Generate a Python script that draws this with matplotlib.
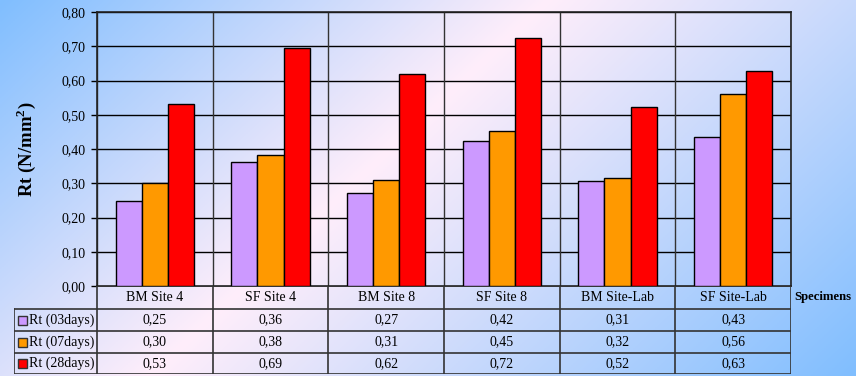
import numpy as np
import matplotlib
matplotlib.use("Agg")
import matplotlib.pyplot as plt
from matplotlib.patches import Rectangle

categories = ["BM Site 4", "SF Site 4", "BM Site 8", "SF Site 8", "BM Site-Lab", "SF Site-Lab"]
series_names = ["Rt (03days)", "Rt (07days)", "Rt (28days)"]
rt_03 = [0.248, 0.362, 0.272, 0.424, 0.307, 0.434]
rt_07 = [0.301, 0.382, 0.309, 0.453, 0.315, 0.561]
rt_28 = [0.531, 0.695, 0.619, 0.724, 0.523, 0.628]
yticks = [0.0, 0.1, 0.2, 0.3, 0.4, 0.5, 0.6, 0.7, 0.8]
colors = ["#CC99FF", "#FF9900", "#FF0000"]
series = [rt_03, rt_07, rt_28]

W, H = 856, 376
plt.rcParams['font.family'] = ['Liberation Serif', 'DejaVu Serif']
fig = plt.figure(figsize=(W / 100, H / 100), dpi=100)

# background gradient
bg = fig.add_axes([0, 0, 1, 1], zorder=-10)
xx, yy = np.meshgrid(np.linspace(0, 1, 400), np.linspace(0, 1, 200))
s = xx + 0.465 * yy
peak = 0.64
t = np.where(s < peak, s / peak, 1 - (s - peak) / (1.465 - peak))
t = np.clip(t, 0, 1)
blue = np.array([128, 190, 255]) / 255
pink = np.array([255, 238, 250]) / 255
img = blue[None, None, :] * (1 - t[..., None]) + pink[None, None, :] * t[..., None]
bg.imshow(img, aspect='auto', extent=[0, 1, 1, 0])
bg.set_xlim(0, 1); bg.set_ylim(1, 0)
bg.axis('off')

L, R, T, B = 97, 791, 12, 286
ax = fig.add_axes([L / W, (H - B) / H, (R - L) / W, (B - T) / H])
ax.patch.set_alpha(0)
n = len(categories)
x = np.arange(n)
bw = 0.225
for i, (vals, c) in enumerate(zip(series, colors)):
    ax.bar(x + (i - 1) * bw, vals, width=bw, color=c, edgecolor='black', linewidth=1.0, zorder=3)
ax.set_xlim(-0.5, n - 0.5)
ax.set_ylim(0, 0.8)
ax.set_yticks(yticks)
ax.set_yticklabels([f"{v:.2f}".replace('.', ',') for v in yticks], fontsize=10)
ax.set_xticks([])
for v in yticks[1:]:
    ax.axhline(v, color='black', lw=1.0, zorder=1)
for b in np.arange(n + 1) - 0.5:
    ax.axvline(b, color='#333333', lw=1.0, zorder=1)
for sp in ax.spines.values():
    sp.set_color('#222222')
    sp.set_linewidth(1.2)
ax.tick_params(axis='y', direction='out', length=4, width=1, pad=4)
ax.set_ylabel("Rt (N/mm$^\\mathregular{2}$)", fontsize=13.5, fontweight='bold', labelpad=17)

# table
TL, TB = 14, 374
scale = (R - L) / n
x_left = -0.5 - (L - TL) / scale
tax = fig.add_axes([TL / W, (H - TB) / H, (R - TL) / W, (TB - B) / H])
tax.set_xlim(x_left, n - 0.5)
rows = [0, 23, 45, 67, 88]
tax.set_ylim(rows[-1], 0)
tax.axis('off')
lc = '#333333'
tax.plot([-0.5, n - 0.5], [0, 0], color=lc, lw=1.2)
for r in rows[1:]:
    tax.plot([x_left, n - 0.5], [r, r], color=lc, lw=1.2)
tax.plot([x_left, x_left], [rows[1], rows[-1]], color=lc, lw=1.2)
for b in np.arange(n + 1) - 0.5:
    tax.plot([b, b], [0, rows[-1]], color=lc, lw=1.2)
for j, cat in enumerate(categories):
    tax.text(j, (rows[0] + rows[1]) / 2, cat, ha='center', va='center', fontsize=10)
for i, (name, vals, c) in enumerate(zip(series_names, series, colors)):
    yc = (rows[i + 1] + rows[i + 2]) / 2
    sq = 9 / scale
    tax.add_patch(Rectangle((x_left + 4 / scale, yc - 4.5), sq, 9, facecolor=c, edgecolor='#333333', lw=1))
    tax.text(x_left + 15 / scale, yc, name, ha='left', va='center', fontsize=10)
    for j, v in enumerate(vals):
        tax.text(j, yc, f"{v:.2f}".replace('.', ','), ha='center', va='center', fontsize=10)

fig.text(794 / W, 1 - 297 / H, "Specimens", ha='left', va='center', fontsize=9.2, fontweight='bold')

fig.savefig("out.png", dpi=100)
